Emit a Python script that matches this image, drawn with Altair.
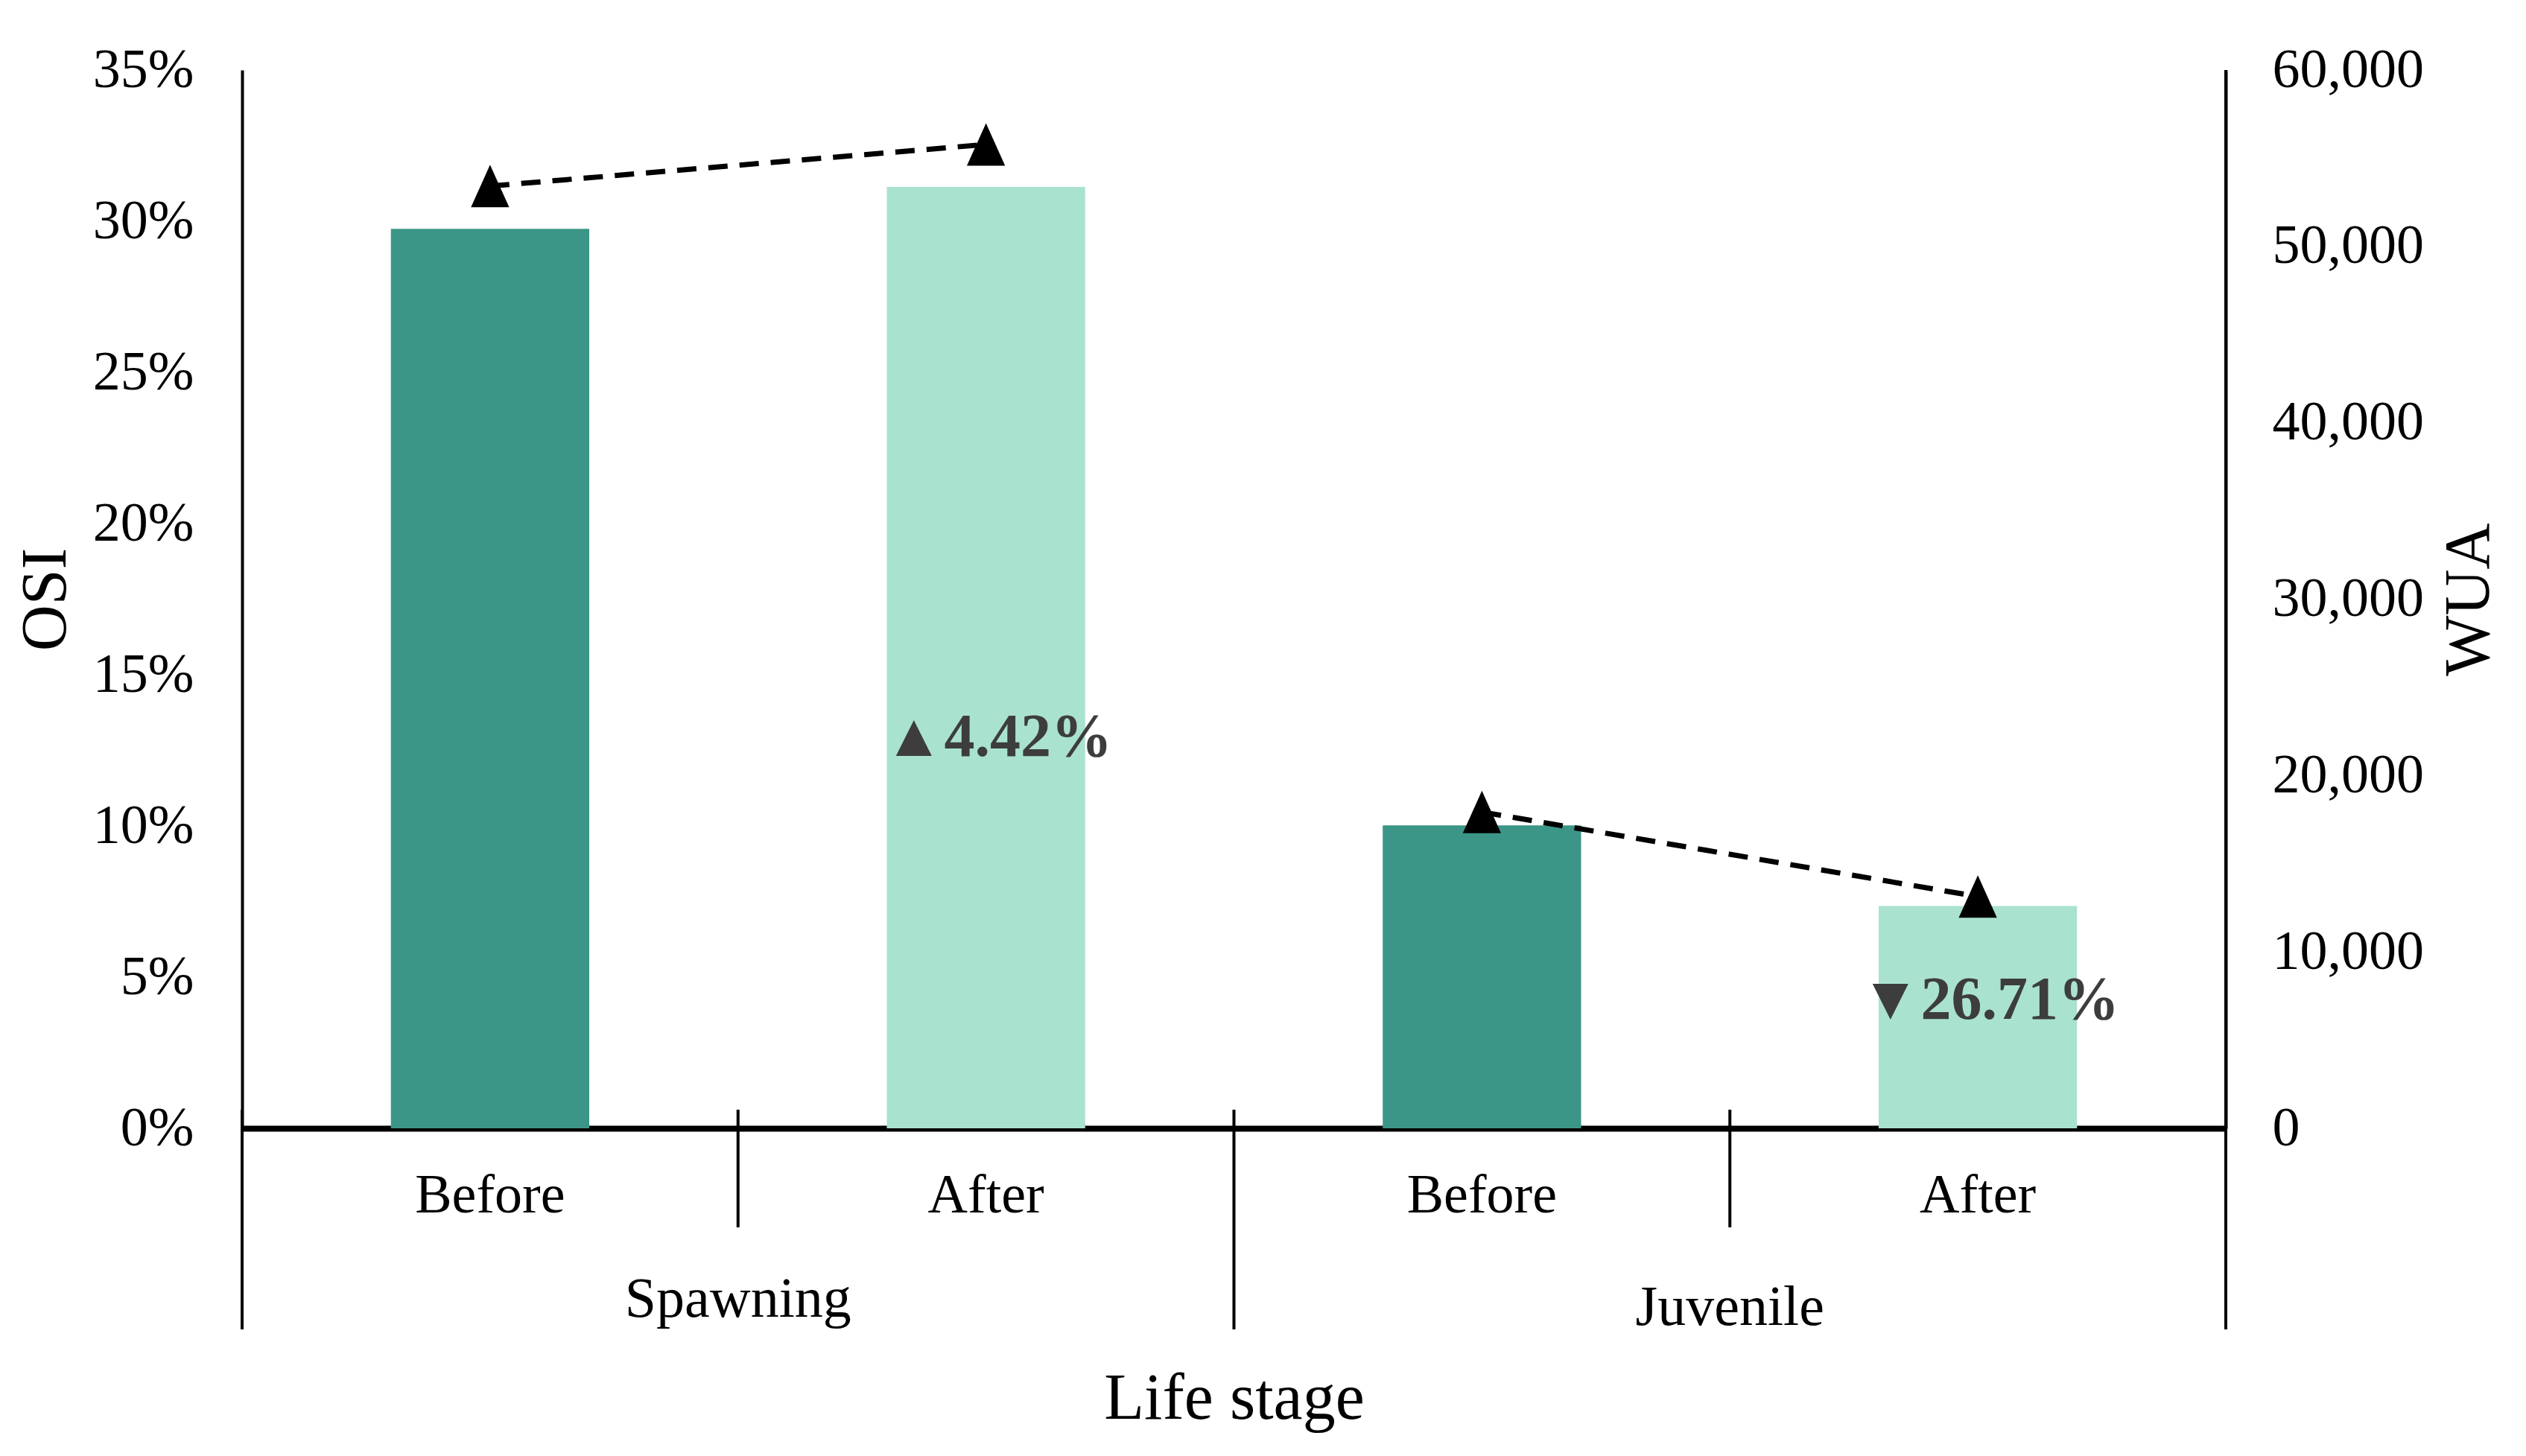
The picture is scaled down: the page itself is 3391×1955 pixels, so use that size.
import altair as alt
import pandas as pd

# ---- data ----
stages = ["Spawning", "Spawning", "Juvenile", "Juvenile"]
periods = ["Before", "After", "Before", "After"]
osi = [0.2975, 0.3113, 0.1002, 0.0735]
wua = [53420, 55780, 17930, 13140]
changes = ["", "▲4.42%", "", "▼26.71%"]
osi_ticks = [0, 0.05, 0.10, 0.15, 0.20, 0.25, 0.30, 0.35]
wua_ticks = [0, 10000, 20000, 30000, 40000, 50000, 60000]

keys = [f"{s}|{p}" for s, p in zip(stages, periods)]
df = pd.DataFrame({"key": keys, "stage": stages, "period": periods,
                   "osi": osi, "wua": wua, "change": changes})

W, H = 2663, 1421
FONT = "Liberation Serif"
DARK = "#3B9687"
LIGHT = "#AAE2D0"

xscale = alt.Scale(domain=keys, paddingInner=0, paddingOuter=0)


def X(pos=None, axis=alt.Undefined):
    if pos is None:
        return alt.X("key:N", scale=xscale, sort=keys, axis=axis)
    return alt.X("key:N", scale=xscale, sort=keys, axis=axis, bandPosition=pos)


base = alt.Chart(df)

xaxis = alt.Axis(
    title="Life stage", labelExpr="split(datum.label, '|')[1]", labelAngle=0,
    labelFont=FONT, labelFontSize=74, labelColor="black", labelPadding=54,
    labelLimit=1000,
    ticks=False, tickSize=0, domain=True, domainColor="black", domainWidth=8,
    titleFont=FONT, titleFontSize=88, titleFontWeight="normal", titleColor="black",
    titlePadding=192, grid=False,
)

bars = base.mark_bar(width=alt.RelativeBandSize(0.4)).encode(
    x=X(axis=xaxis),
    y=alt.Y("osi:Q", scale=alt.Scale(domain=[0, 0.35], nice=False),
            axis=alt.Axis(title="OSI", format=".0%", values=osi_ticks, grid=False,
                          labelFont=FONT, labelFontSize=74, labelColor="black",
                          labelPadding=65, labelLimit=1000, ticks=False, tickSize=0,
                          domainColor="black", domainWidth=4,
                          titleFont=FONT, titleFontSize=86, titleFontWeight="normal",
                          titleColor="black", titlePadding=20)),
    color=alt.Color("period:N", scale=alt.Scale(domain=["Before", "After"], range=[DARK, LIGHT]),
                    legend=None),
)

wua_scale = alt.Scale(domain=[0, 60000], nice=False)
wua_y = alt.Y("wua:Q", scale=wua_scale,
              axis=alt.Axis(title="WUA", orient="right", format=",d", values=wua_ticks,
                            grid=False, labelFont=FONT, labelFontSize=74, labelColor="black",
                            labelPadding=62, labelLimit=1000, ticks=False, tickSize=0,
                            domainColor="black", domainWidth=4,
                            titleFont=FONT, titleFontSize=86, titleFontWeight="normal",
                            titleColor="black", titleAngle=270, titleBaseline="top",
                            titlePadding=84))

line = base.mark_line(color="black", strokeWidth=7, strokeDash=[26, 16]).encode(
    x=X(), y=wua_y, detail="stage:N")

points = base.mark_point(shape="M0,-1L0.9,1L-0.9,1Z", filled=True, color="black",
                         opacity=1, size=3249).encode(
    x=X(), y=alt.Y("wua:Q", scale=wua_scale))

wua_layer = alt.layer(line, points)

ann_style = dict(font=FONT, fontSize=82, fontWeight="bold", color="#3d3d3d",
                 align="center", baseline="middle", dx=16)
ann1 = base.transform_filter(alt.datum.stage == "Spawning").transform_filter(
    alt.datum.period == "After").mark_text(**ann_style).encode(
    x=X(), y=alt.value(896), text="change:N")
ann2 = base.transform_filter(alt.datum.stage == "Juvenile").transform_filter(
    alt.datum.period == "After").mark_text(**ann_style).encode(
    x=X(), y=alt.value(1249), text="change:N")

after = base.transform_filter(alt.datum.period == "After")
before = base.transform_filter(alt.datum.period == "Before")

sep_short = after.mark_rule(color="black", strokeWidth=4).encode(
    x=X(0), y=alt.value(H - 25), y2=alt.value(H + 133))
sep_long = before.mark_rule(color="black", strokeWidth=4).encode(
    x=X(0), y=alt.value(H - 25), y2=alt.value(H + 270))
sep_right = base.transform_filter(alt.datum.key == keys[-1]).mark_rule(
    color="black", strokeWidth=4).encode(x=X(1), y=alt.value(0), y2=alt.value(H + 270))

grp_style = dict(font=FONT, fontSize=76, color="black", align="center", baseline="alphabetic")
grp1 = after.transform_filter(alt.datum.stage == "Spawning").mark_text(**grp_style).encode(
    x=X(0), y=alt.value(H + 253), text="stage:N")
grp2 = after.transform_filter(alt.datum.stage == "Juvenile").mark_text(**grp_style).encode(
    x=X(0), y=alt.value(H + 264), text="stage:N")

osi_layer = alt.layer(bars, sep_short, sep_long, sep_right, grp1, grp2, ann1, ann2)

chart = alt.layer(osi_layer, wua_layer).resolve_scale(y="independent").properties(
    width=W, height=H, background="white",
    padding={"top": 49, "left": 10, "right": 10, "bottom": 5}
).configure_view(stroke=None)

chart.save("out.html", embed_options={"renderer": "svg", "actions": False})
